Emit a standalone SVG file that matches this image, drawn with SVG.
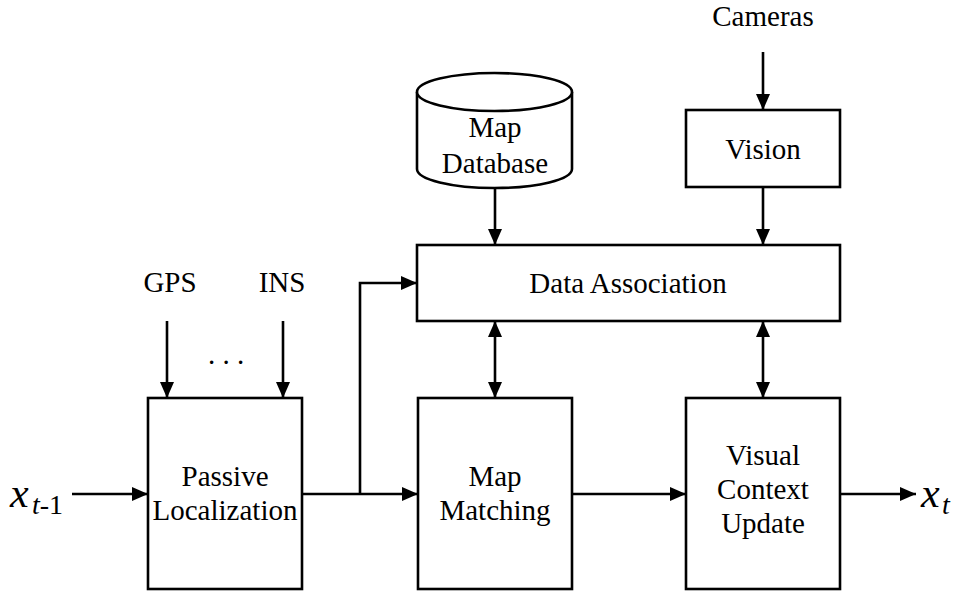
<svg xmlns="http://www.w3.org/2000/svg" width="972" height="594" viewBox="0 0 972 594">
  <style>
    .box { fill: #fff; stroke: #000; stroke-width: 2.6; }
    .wire { fill: none; stroke: #000; stroke-width: 2.6; }
    text { font-family: 'Liberation Serif', 'Times New Roman', Times, Tinos, 'Nimbus Roman', 'FreeSerif', 'DejaVu Serif', serif; fill: #000; }
    .lbl { font-size: 29px; text-anchor: middle; }
  </style>
  <defs>
    <marker id="arrow" viewBox="0 0 16 14" refX="16" refY="7" markerWidth="16" markerHeight="14" markerUnits="userSpaceOnUse" orient="auto-start-reverse">
      <path d="M0,0 L16,7 L0,14 Z" fill="#000"/>
    </marker>
  </defs>

  <rect width="972" height="594" fill="#fff"/>

  <!-- connectors -->
  <g id="connectors" class="wire">
    <line x1="72" y1="494" x2="148" y2="494" marker-end="url(#arrow)"/>
    <line x1="167" y1="321" x2="167" y2="398" marker-end="url(#arrow)"/>
    <line x1="283" y1="321" x2="283" y2="398" marker-end="url(#arrow)"/>
    <line x1="302" y1="494" x2="418" y2="494" marker-end="url(#arrow)"/>
    <polyline points="360,494 360,283 417,283" marker-end="url(#arrow)"/>
    <line x1="572" y1="494" x2="686" y2="494" marker-end="url(#arrow)"/>
    <line x1="840" y1="494" x2="916" y2="494" marker-end="url(#arrow)"/>
    <line x1="495" y1="188" x2="495" y2="245" marker-end="url(#arrow)"/>
    <line x1="763" y1="52" x2="763" y2="110" marker-end="url(#arrow)"/>
    <line x1="763" y1="187" x2="763" y2="245" marker-end="url(#arrow)"/>
    <line x1="495" y1="321" x2="495" y2="398" marker-start="url(#arrow)" marker-end="url(#arrow)"/>
    <line x1="763" y1="321" x2="763" y2="398" marker-start="url(#arrow)" marker-end="url(#arrow)"/>
  </g>

  <!-- sensor inputs -->
  <g id="inputs">
    <text class="lbl" x="170" y="292">GPS</text>
    <text class="lbl" x="282" y="292">INS</text>
    <text class="lbl" x="226" y="364">. . .</text>
    <text class="lbl" x="763" y="26">Cameras</text>
  </g>

  <g id="state-in">
    <text x="10" y="507" font-size="42" font-style="italic">x</text>
    <text x="32" y="514" font-size="28"><tspan font-style="italic">t</tspan>-1</text>
  </g>
  <g id="state-out">
    <text x="921" y="507" font-size="42" font-style="italic">x</text>
    <text x="942" y="514" font-size="28" font-style="italic">t</text>
  </g>

  <g id="passive-localization">
    <rect class="box" x="148" y="398" width="154" height="191"/>
    <text class="lbl" x="225" y="486">Passive</text>
    <text class="lbl" x="225" y="520">Localization</text>
  </g>

  <g id="map-matching">
    <rect class="box" x="418" y="398" width="154" height="191"/>
    <text class="lbl" x="495" y="486">Map</text>
    <text class="lbl" x="495" y="520">Matching</text>
  </g>

  <g id="visual-context-update">
    <rect class="box" x="686" y="398" width="154" height="191"/>
    <text class="lbl" x="763" y="465">Visual</text>
    <text class="lbl" x="763" y="499">Context</text>
    <text class="lbl" x="763" y="533">Update</text>
  </g>

  <g id="data-association">
    <rect class="box" x="417" y="245" width="423" height="76"/>
    <text class="lbl" x="628" y="293">Data Association</text>
  </g>

  <g id="map-database">
    <path class="box" d="M417,92 L417,169 A77.5,19 0 0 0 572,169 L572,92"/>
    <ellipse class="box" cx="494.5" cy="92" rx="77.5" ry="19"/>
    <text class="lbl" x="495" y="137">Map</text>
    <text class="lbl" x="495" y="173">Database</text>
  </g>

  <g id="vision">
    <rect class="box" x="686" y="110" width="154" height="77"/>
    <text class="lbl" x="763" y="159">Vision</text>
  </g>
</svg>
